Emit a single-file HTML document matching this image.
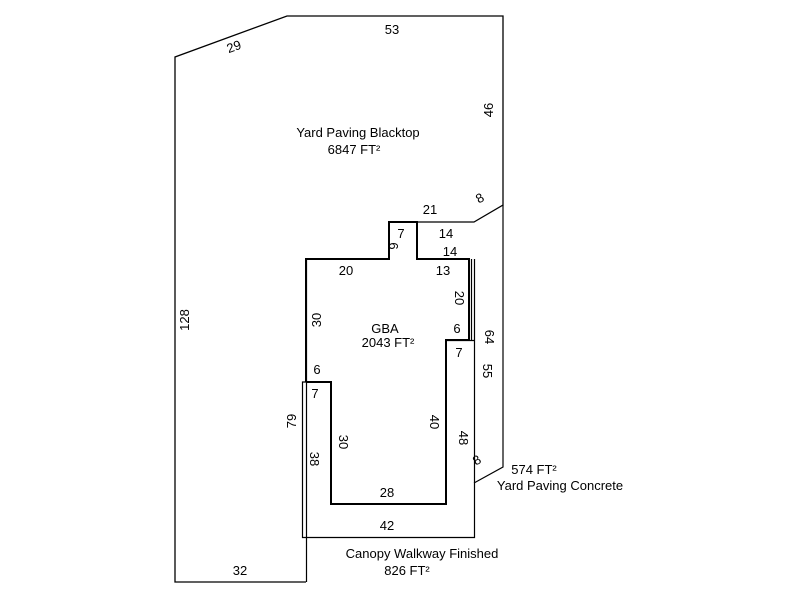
<!DOCTYPE html>
<html><head><style>body{margin:0;background:#fff}svg{display:block}text{font-family:"Liberation Sans",Arial,sans-serif;font-size:13px;fill:#000}</style></head><body>
<svg width="800" height="600" viewBox="0 0 800 600" xmlns="http://www.w3.org/2000/svg">
<g fill="none" stroke="#000" stroke-width="1.3">
<polyline points="306,582 175,582 175,57 287,16 503,16 503,205 474,222 417,222"/>
<polyline points="389,222 389,259 306,259"/>
<line x1="306.5" y1="259" x2="306.5" y2="582" stroke-width="1.2"/>
<polyline points="474.5,259 474.5,537.5 302.5,537.5 302.5,382 331,382" stroke-width="1.2"/>
<polyline points="503,205 503,467 474,483" stroke-width="1.2"/>
<line x1="471.5" y1="259" x2="471.5" y2="340" stroke-width="1.2"/>
<line x1="446" y1="340.5" x2="474" y2="340.5" stroke-width="1.2"/>
</g>
<polyline fill="none" stroke="#000" stroke-width="2" points="306,382 306,259 389,259 389,222 417,222 417,259 469,259 469,340 446,340 446,504 331,504 331,382 306,382"/>
<text x="392" y="34" text-anchor="middle">53</text>
<text x="234" y="51" text-anchor="middle" transform="rotate(-20 234 47)">29</text>
<text transform="translate(493,110) rotate(-90)" text-anchor="middle">46</text>
<text x="358" y="137" text-anchor="middle">Yard Paving Blacktop</text>
<text x="354" y="154" text-anchor="middle">6847 FT²</text>
<text x="430" y="214" text-anchor="middle">21</text>
<text transform="translate(482,202) rotate(-30)" text-anchor="middle">8</text>
<text x="401" y="238" text-anchor="middle">7</text>
<text transform="translate(389,246) rotate(90)" text-anchor="middle">6</text>
<text x="446" y="238" text-anchor="middle">14</text>
<text x="450" y="256" text-anchor="middle">14</text>
<text x="346" y="275" text-anchor="middle">20</text>
<text x="443" y="275" text-anchor="middle">13</text>
<text transform="translate(455,298) rotate(90)" text-anchor="middle">20</text>
<text transform="translate(321,320) rotate(-90)" text-anchor="middle">30</text>
<text x="385" y="333" text-anchor="middle">GBA</text>
<text x="388" y="347" text-anchor="middle">2043 FT²</text>
<text x="457" y="333" text-anchor="middle">6</text>
<text transform="translate(485,337) rotate(90)" text-anchor="middle">64</text>
<text x="459" y="357" text-anchor="middle">7</text>
<text transform="translate(483,371) rotate(90)" text-anchor="middle">55</text>
<text x="317" y="374" text-anchor="middle">6</text>
<text x="315" y="398" text-anchor="middle">7</text>
<text transform="translate(296,421) rotate(-90)" text-anchor="middle">79</text>
<text transform="translate(430,422) rotate(90)" text-anchor="middle">40</text>
<text transform="translate(339,442) rotate(90)" text-anchor="middle">30</text>
<text transform="translate(459,438) rotate(90)" text-anchor="middle">48</text>
<text transform="translate(310,459) rotate(90)" text-anchor="middle">38</text>
<text transform="translate(479,464) rotate(-30)" text-anchor="middle">8</text>
<text x="534" y="474" text-anchor="middle">574 FT²</text>
<text x="560" y="490" text-anchor="middle">Yard Paving Concrete</text>
<text x="387" y="497" text-anchor="middle">28</text>
<text x="387" y="530" text-anchor="middle">42</text>
<text x="422" y="558" text-anchor="middle">Canopy Walkway Finished</text>
<text x="407" y="575" text-anchor="middle">826 FT²</text>
<text x="240" y="575" text-anchor="middle">32</text>
<text transform="translate(189,320) rotate(-90)" text-anchor="middle">128</text>
</svg>
</body></html>
